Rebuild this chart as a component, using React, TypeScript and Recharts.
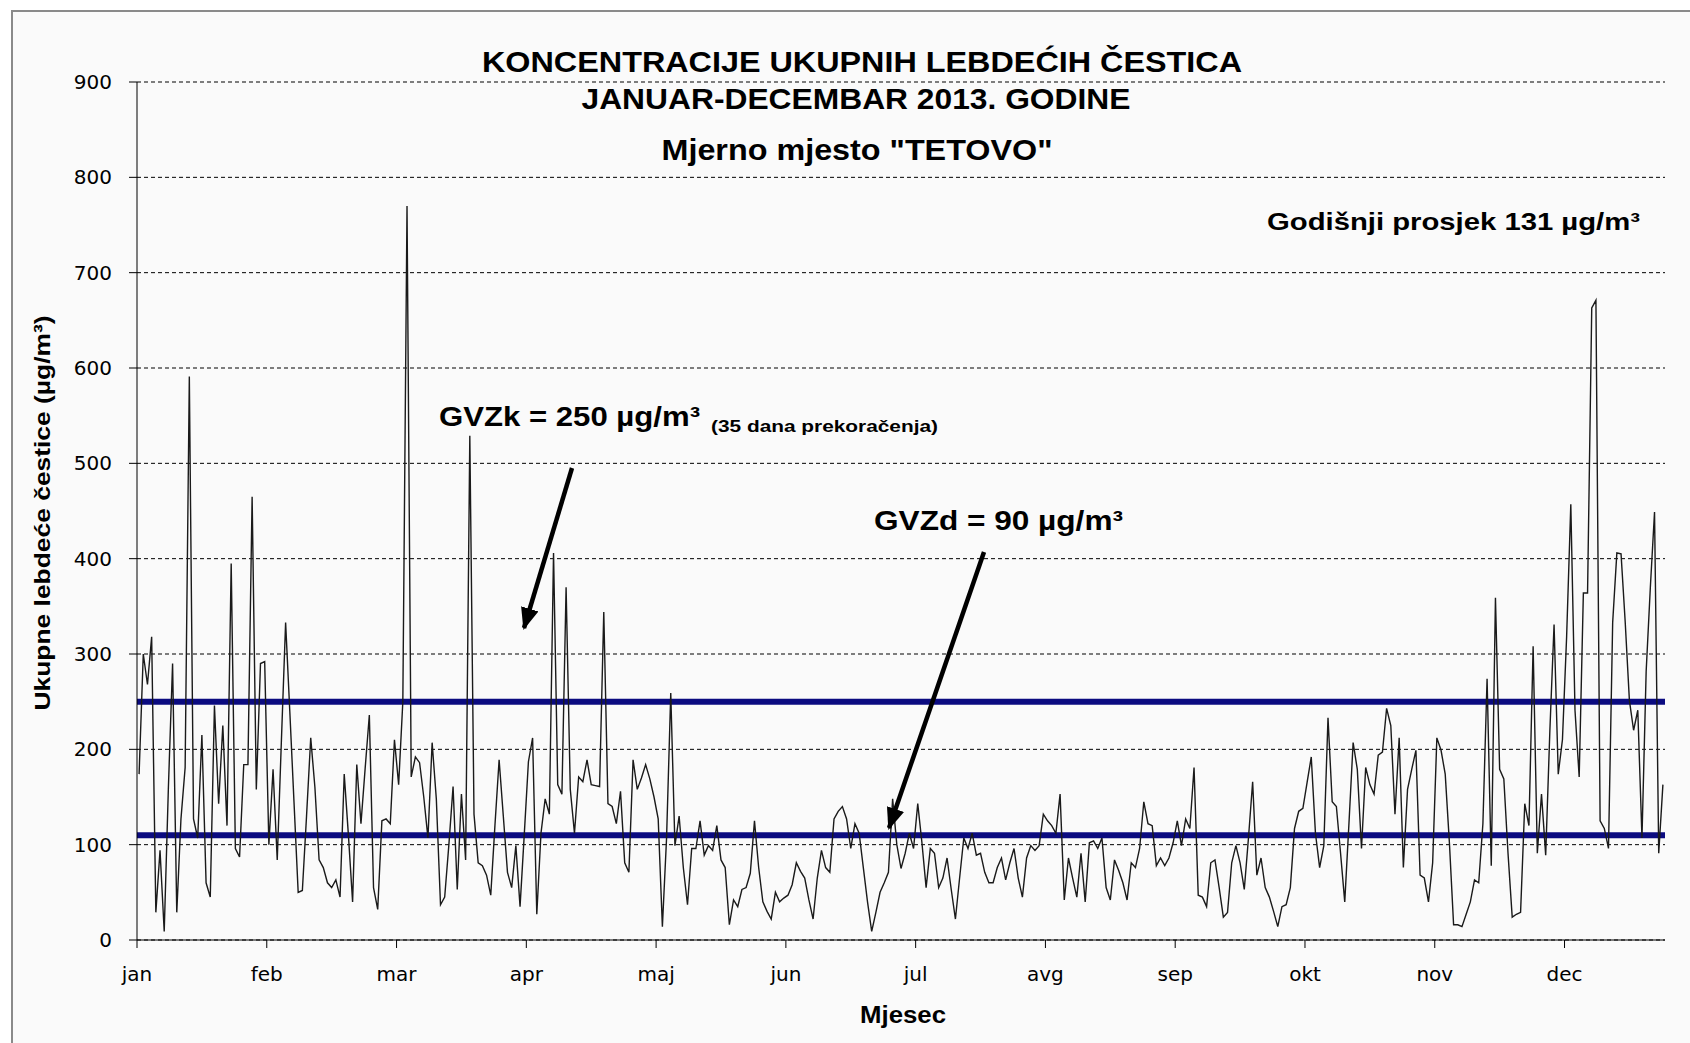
import React from 'react';
import { LineChart, Line, XAxis, YAxis, CartesianGrid, ReferenceLine } from 'recharts';

// Daily concentrations (µg/m³), 2013, split by calendar month
const jan = [174,300,268,318,29,94,9,160,290,29,127,181,591,127,107,215,60,45,246,143,225,120,395,96,87,184,184,465,158,290,292];
const feb = [100,179,84,210,333,240,145,50,52,130,212,160,84,76,60,55,63,45,174,110,40,184,122,180,236,55,32,125];
const mar = [127,122,210,163,250,770,171,192,186,150,107,207,148,37,45,100,161,53,153,84,529,132,81,78,68,47,120,189,130,71,55];
const apr = [99,35,110,187,212,27,112,148,132,406,163,153,370,158,112,171,166,189,163,162,161,344,143,140,122,156,81,71,189,158];
const maj = [170,184,169,150,127,14,107,259,99,130,76,37,96,96,125,89,99,94,120,84,76,16,42,35,53,55,70,125,76,40,30];
const jun = [22,50,40,44,47,58,81,72,65,42,22,65,94,76,71,127,135,140,127,96,122,112,76,40,9,29,50,60,71,148];
const jul = [100,75,91,112,96,143,102,55,96,91,55,65,86,53,22,65,107,96,112,89,91,71,60,60,76,86,63,81,96,65,45];
const avg = [86,99,94,99,132,125,120,112,153,42,86,65,45,91,40,102,104,96,107,55,42,84,73,60,42,81,76,96,145,122,120];
const sep = [78,86,78,86,102,125,99,127,117,181,47,45,35,81,84,55,24,29,81,99,81,53,107,166,68,86,55,45,30,14];
const okt = [35,37,55,117,135,138,165,192,112,76,99,233,145,140,91,40,122,207,179,96,181,163,153,194,197,243,225,132,212,76,158];
const nov = [179,199,68,65,40,81,212,199,174,102,16,16,14,27,40,63,60,122,274,78,359,179,169,91,24,27,29,143,120,308];
const dec = [91,153,89,220,331,174,210,318,457,241,171,364,364,663,671,125,117,96,333,406,405,333,251,220,241,107,282,370,449,91,163];

const monthLabels = ['jan','feb','mar','apr','maj','jun','jul','avg','sep','okt','nov','dec'];
const xTicks = [0,31,62,93,124,155,186,217,248,279,310,341];
const yTicks = [0,100,200,300,400,500,600,700,800,900];
const limitK = 250;
const limitD = 110;

const values = [...jan, ...feb, ...mar, ...apr, ...maj, ...jun, ...jul, ...avg, ...sep, ...okt, ...nov, ...dec];
const data = values.map((v, i) => ({ x: i + 0.5, v }));

const narrow = "'Liberation Sans Narrow', 'Liberation Sans', Arial, sans-serif";
const sans = "'Liberation Sans', Arial, sans-serif";
const tickFont = { fill: '#000', fontSize: 20, fontFamily: "'DejaVu Sans', Verdana, sans-serif" };

export default function App() {
  return (
    <div style={{ position: 'absolute', left: 0, top: 0, width: 1690, height: 1043, background: '#fff', overflow: 'hidden' }}>
      <div style={{ position: 'absolute', left: 11, top: 10, width: 1700, height: 1100, border: '2px solid #8a8a8a', background: '#fafafa' }} />
      <div style={{ position: 'absolute', left: 0, top: 0 }}>
        <LineChart width={1690} height={1043} data={data} margin={{ top: 82, right: 25, bottom: 63, left: 37 }}>
          <CartesianGrid vertical={false} stroke="#000" strokeDasharray="4 3" strokeWidth={1} />
          <XAxis
            dataKey="x"
            type="number"
            domain={[0, 365]}
            ticks={xTicks}
            tickFormatter={(t: number) => monthLabels[Math.round(t / 31)]}
            interval={0}
            height={40}
            stroke="#000"
            tickSize={8}
            tickMargin={19}
            tick={tickFont}
            allowDataOverflow
          />
          <YAxis
            type="number"
            domain={[0, 900]}
            ticks={yTicks}
            interval={0}
            width={100}
            stroke="#000"
            tickSize={8}
            tickMargin={17}
            tick={tickFont}
          />
          <ReferenceLine y={limitK} stroke="#0b0b80" strokeWidth={6} />
          <ReferenceLine y={limitD} stroke="#0b0b80" strokeWidth={6} />
          <Line type="linear" dataKey="v" stroke="#1a1a1a" strokeWidth={1.4} dot={false} isAnimationActive={false} />
        </LineChart>
      </div>
      <svg style={{ position: 'absolute', left: 0, top: 0 }} width={1690} height={1043}>
        <defs>
          <marker id="ah" markerUnits="userSpaceOnUse" markerWidth="22" markerHeight="18" refX="20" refY="9" orient="auto">
            <polygon points="0,0 22,9 0,18" fill="#000" />
          </marker>
        </defs>
        <g fontWeight="bold" fill="#000">
          <text x={862} y={72} textAnchor="middle" fontFamily={narrow} fontSize={30} textLength={760} lengthAdjust="spacingAndGlyphs">KONCENTRACIJE UKUPNIH LEBDEĆIH ČESTICA</text>
          <text x={856} y={109} textAnchor="middle" fontFamily={narrow} fontSize={30} textLength={549} lengthAdjust="spacingAndGlyphs">JANUAR-DECEMBAR 2013. GODINE</text>
          <text x={857} y={160} textAnchor="middle" fontFamily={narrow} fontSize={30} textLength={391} lengthAdjust="spacingAndGlyphs">Mjerno mjesto "TETOVO"</text>
          <text x={1267} y={230} fontFamily={sans} fontSize={24} textLength={373} lengthAdjust="spacingAndGlyphs">Godišnji prosjek 131 µg/m³</text>
          <text x={439} y={426} fontFamily={narrow} fontSize={27} textLength={261} lengthAdjust="spacingAndGlyphs">GVZk = 250 µg/m³</text>
          <text x={711} y={432} fontFamily={narrow} fontSize={17} textLength={227} lengthAdjust="spacingAndGlyphs">(35 dana prekoračenja)</text>
          <text x={874} y={530} fontFamily={narrow} fontSize={27} textLength={249} lengthAdjust="spacingAndGlyphs">GVZd = 90 µg/m³</text>
          <text x={903} y={1023} textAnchor="middle" fontFamily={sans} fontSize={23} textLength={86} lengthAdjust="spacingAndGlyphs">Mjesec</text>
          <text transform="translate(50,513) rotate(-90)" textAnchor="middle" fontFamily={narrow} fontSize={22} textLength={395} lengthAdjust="spacingAndGlyphs">Ukupne lebdeće čestice (µg/m³)</text>
        </g>
        <line x1={572} y1={468} x2={524} y2={628} stroke="#000" strokeWidth={4.5} markerEnd="url(#ah)" />
        <line x1={984} y1={552} x2={889} y2={828} stroke="#000" strokeWidth={4.5} markerEnd="url(#ah)" />
      </svg>
    </div>
  );
}
